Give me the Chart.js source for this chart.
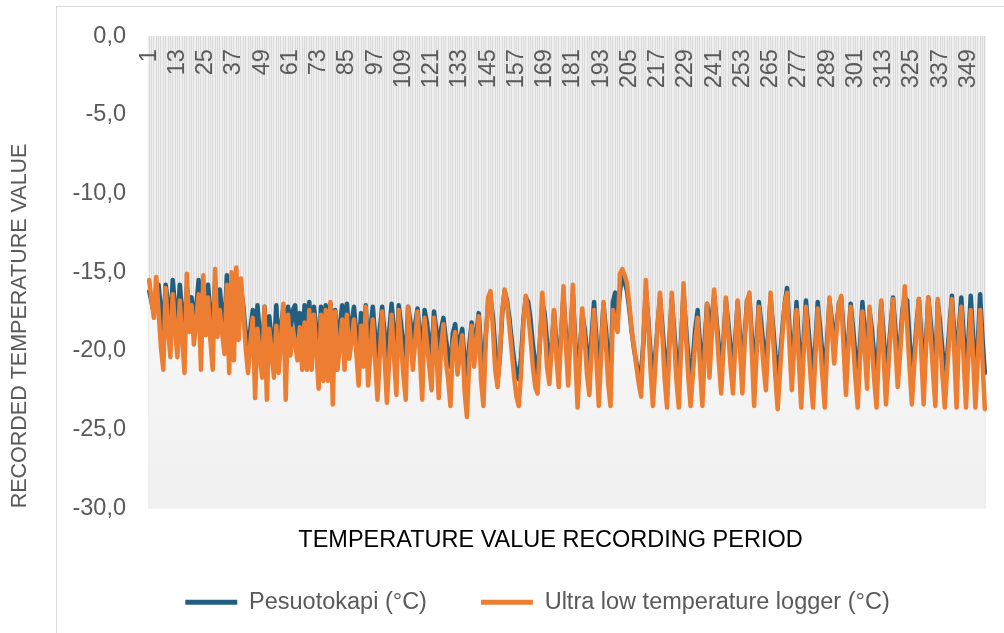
<!DOCTYPE html>
<html>
<head>
<meta charset="utf-8">
<title>Recorded temperature values</title>
<script src="https://cdn.jsdelivr.net/npm/chart.js@4.4.1/dist/chart.umd.min.js"></script>
<style>
  html, body { margin: 0; padding: 0; background: #fff; overflow: hidden; }
  /* outer chart frame, cropped on the right and bottom like the original */
  #frame { position: absolute; left: 56px; top: 6px; width: 1200px; height: 900px; border: 1px solid #d9d9d9; }
  #wrap { position: absolute; left: 0; top: 0; width: 1004px; height: 633px; }
</style>
</head>
<body>
<div id="frame"></div>
<div id="wrap"><canvas id="tempChart"></canvas></div>
<script>
// Temperature chart - one value per recording period

const FONT = '"Liberation Sans", Arial, sans-serif';

const periodCount = 356;
const periods = Array.from({ length: periodCount }, (_, i) => String(i + 1));
const labelStep = 12; // only every 12th period gets a label

const seriesNames = ["Pesuotokapi (°C)", "Ultra low temperature logger (°C)"];
const seriesColors = ["#215e80", "#ed7d31"];

const yMin = -30;
const yMax = 0;
const yStep = 5;

// Pesuotokapi (°C)
const pesuotokapi = [
  -16.2, -16.9, -17.6, -16.2, -15.8, -17.4, -18.6, -15.8, -17.0, -18.4,
  -15.5, -17.2, -18.5, -15.8, -17.4, -19.0, -16.0, -17.0, -16.6, -18.0,
  -17.2, -15.5, -18.6, -16.0, -17.4, -15.8, -17.6, -19.0, -15.6, -17.6,
  -16.1, -17.7, -18.6, -15.2, -18.8, -15.8, -18.5, -15.5, -17.8, -16.0,
  -17.2, -18.8, -20.0, -18.6, -17.4, -20.6, -17.1, -19.0, -20.2, -17.2,
  -20.8, -17.8, -19.2, -20.2, -17.1, -19.8, -18.4, -17.3, -20.5, -17.2,
  -19.0, -17.4, -17.1, -19.2, -17.6, -19.6, -17.1, -19.6, -16.9, -19.4,
  -17.2, -18.6, -20.4, -17.2, -19.8, -17.1, -19.9, -17.0, -20.8, -17.4,
  -19.5, -18.4, -17.1, -19.5, -17.0, -19.0, -18.2, -17.2, -18.9, -20.2,
  -17.6, -19.4, -17.1, -20.0, -18.6, -17.2, -19.0, -20.8, -18.6, -17.2,
  -18.9, -20.9, -18.7, -17.0, -18.8, -20.6, -17.1, -18.3, -19.7, -20.8,
  -17.2, -18.2, -19.6, -18.3, -17.3, -18.9, -20.7, -17.4, -18.2, -19.5,
  -20.4, -17.5, -18.7, -20.6, -18.6, -17.9, -19.2, -20.2, -21.0, -18.9,
  -18.3, -19.9, -19.3, -18.6, -20.6, -21.6, -19.6, -18.2, -19.8, -18.9,
  -17.6, -20.0, -21.4, -19.0, -17.0, -16.6, -17.8, -19.8, -21.9, -20.4,
  -17.6, -16.2, -16.8, -17.9, -19.3, -20.6, -21.4, -21.8, -20.4, -18.0,
  -16.6, -16.9, -18.0, -19.6, -20.8, -21.5, -19.4, -16.9, -17.6, -19.4,
  -20.6, -19.6, -17.5, -19.5, -20.8, -19.0, -16.5, -18.8, -20.9, -19.0,
  -16.4, -19.4, -21.6, -19.9, -17.6, -18.6, -20.0, -21.2, -19.0, -16.9,
  -19.3, -21.5, -19.6, -17.0, -18.6, -20.6, -21.3, -16.9, -16.3, -18.0,
  -16.2, -15.2, -15.6, -16.2, -17.4, -18.8, -19.9, -20.8, -21.5, -21.3,
  -19.4, -16.1, -18.0, -20.2, -21.4, -20.3, -18.4, -16.6, -18.4, -20.4,
  -21.5, -19.4, -16.7, -18.6, -20.6, -21.6, -19.2, -16.3, -18.4, -20.4,
  -21.6, -20.4, -18.6, -17.4, -19.6, -21.4, -19.4, -17.0, -18.2, -17.8,
  -16.5, -18.0, -19.7, -21.0, -19.3, -16.8, -18.2, -19.8, -21.0, -19.2,
  -16.9, -19.0, -21.0, -19.0, -16.8, -16.6, -19.0, -21.3, -19.5, -16.9,
  -18.2, -19.7, -20.8, -19.0, -16.6, -18.4, -20.2, -21.4, -20.4, -18.6,
  -17.0, -16.0, -18.6, -20.7, -19.3, -16.9, -19.4, -21.3, -19.5, -16.8,
  -18.5, -20.2, -21.4, -19.6, -16.9, -18.5, -20.2, -21.4, -19.4, -16.8,
  -18.0, -19.6, -18.4, -17.0, -16.6, -18.8, -20.9, -19.4, -17.0, -18.5,
  -20.2, -21.4, -19.6, -16.9, -18.8, -20.4, -17.4, -18.6, -20.3, -21.4,
  -19.4, -16.9, -19.0, -21.2, -20.2, -18.4, -16.6, -18.6, -20.6, -19.6,
  -17.4, -16.6, -16.8, -19.2, -21.4, -20.2, -18.3, -16.7, -19.0, -21.2,
  -19.4, -16.6, -18.2, -20.0, -21.3, -16.9, -18.2, -20.0, -21.4, -20.3,
  -18.4, -16.5, -18.8, -21.2, -18.6, -16.6, -19.0, -21.2, -19.4, -16.5,
  -19.0, -21.3, -19.6, -16.4, -19.2, -21.4
];

// Ultra low temperature logger (°C)
const ultraLowLogger = [
  -15.5, -16.8, -17.9, -15.3, -17.5, -19.8, -21.2, -16.0, -18.5, -20.4,
  -16.4, -18.6, -20.4, -16.8, -19.2, -21.4, -15.1, -18.8, -17.1, -19.6,
  -18.0, -16.4, -21.2, -15.2, -19.0, -16.6, -19.3, -21.2, -14.8, -19.1,
  -17.4, -18.9, -20.2, -15.8, -21.4, -15.0, -20.6, -14.7, -19.3, -15.4,
  -17.6, -19.8, -21.4, -19.5, -17.9, -23.0, -18.6, -20.2, -21.7, -17.2,
  -23.1, -18.6, -20.0, -21.7, -18.4, -21.4, -19.2, -17.0, -23.1, -17.7,
  -20.3, -18.6, -19.5, -20.6, -18.5, -21.2, -18.2, -21.2, -17.4, -21.2,
  -17.7, -20.0, -22.4, -17.7, -21.9, -17.4, -21.9, -16.9, -23.4, -17.5,
  -21.2, -19.6, -18.0, -21.2, -17.7, -20.5, -19.3, -18.0, -20.1, -22.2,
  -18.4, -21.0, -17.2, -22.2, -20.1, -18.0, -20.6, -23.1, -20.2, -17.5,
  -20.4, -23.3, -20.5, -17.7, -20.3, -22.8, -17.4, -19.6, -21.5, -23.1,
  -17.2, -19.2, -21.2, -19.4, -17.5, -20.3, -23.1, -17.9, -19.5, -21.0,
  -22.5, -17.9, -20.0, -23.0, -19.8, -18.3, -20.6, -21.8, -23.5, -19.6,
  -18.8, -21.5, -20.2, -19.0, -22.6, -24.2, -20.5, -18.4, -21.0, -19.6,
  -17.8, -21.9, -23.5, -19.4, -16.6, -16.2, -18.5, -21.2, -22.3, -20.1,
  -17.4, -16.1, -17.0, -18.4, -20.0, -21.6, -22.9, -23.5, -21.4, -18.2,
  -16.5, -17.6, -19.2, -21.0, -22.3, -22.7, -19.5, -16.3, -18.4, -21.0,
  -22.1, -19.8, -17.4, -20.4, -22.3, -19.0, -15.9, -19.5, -22.2, -19.1,
  -15.8, -20.2, -23.6, -20.5, -17.3, -19.2, -21.5, -22.8, -19.7, -17.4,
  -20.6, -23.5, -20.3, -16.9, -19.5, -22.1, -23.5, -17.4, -18.1, -18.8,
  -15.1, -14.8, -15.2, -15.7, -17.1, -18.7, -19.8, -21.0, -22.1, -22.9,
  -19.0, -15.5, -18.2, -21.2, -23.5, -21.0, -18.4, -16.3, -19.0, -21.8,
  -23.6, -19.8, -16.3, -19.2, -21.9, -23.6, -19.6, -15.7, -18.9, -21.6,
  -23.5, -21.4, -19.4, -17.9, -21.0, -23.5, -20.2, -17.0, -21.7, -19.0,
  -16.1, -18.4, -20.7, -22.7, -19.8, -16.6, -18.8, -21.0, -22.7, -19.6,
  -16.8, -19.9, -22.7, -19.4, -16.8, -16.3, -20.0, -23.5, -20.3, -17.2,
  -19.0, -21.0, -22.5, -19.4, -16.3, -19.0, -21.6, -23.7, -21.3, -19.0,
  -17.0, -16.3, -19.6, -22.5, -19.8, -17.4, -20.6, -23.6, -20.3, -17.2,
  -19.4, -21.7, -23.6, -20.4, -17.3, -19.4, -21.6, -23.6, -19.9, -16.6,
  -18.6, -20.8, -18.8, -17.0, -16.5, -19.8, -22.8, -19.9, -17.2, -19.4,
  -21.7, -23.6, -20.4, -17.5, -20.0, -22.4, -17.2, -19.6, -21.8, -23.6,
  -20.0, -16.8, -20.3, -23.4, -21.1, -18.8, -16.7, -19.6, -22.3, -20.2,
  -17.8, -15.9, -18.4, -21.0, -23.4, -20.9, -18.6, -16.7, -20.1, -23.4,
  -19.9, -16.6, -19.0, -21.4, -23.5, -16.7, -19.1, -21.5, -23.6, -21.2,
  -18.9, -16.7, -20.0, -23.6, -19.0, -17.2, -20.5, -23.6, -20.4, -17.4,
  -20.4, -23.6, -20.5, -17.4, -20.6, -23.7
];

// Light fill under the lines, hides the grid like in the original
function underFill(context) {
  const chart = context.chart;
  const area = chart.chartArea;
  if (!area) return "#f4f4f4";
  const g = chart.ctx.createLinearGradient(0, area.top, 0, area.bottom);
  g.addColorStop(0, "#fdfdfd");
  g.addColorStop(0.55, "#f7f7f7");
  g.addColorStop(1, "#f0f0f0");
  return g;
}

// Plot area background behind the category grid
const plotBackground = {
  id: "plotBackground",
  beforeDraw(chart) {
    const { ctx, chartArea } = chart;
    ctx.save();
    ctx.fillStyle = "#efefef";
    ctx.fillRect(chartArea.left, chartArea.top, chartArea.width, chartArea.height);
    ctx.restore();
  },
};

// Axis title and legend were centred on the (wider) original frame
const shiftBottomBoxes = {
  id: "shiftBottomBoxes",
  afterLayout(chart) {
    shiftBox(chart.titleBlock, 54);
    shiftBox(chart.legend, 41);
  },
};

function shiftBox(box, dx) {
  if (!box) return;
  box.left += dx;
  box.right += dx;
}

// Legend shows a short line in the series colour, in dataset order
function legendLabels(chart) {
  const items = Chart.defaults.plugins.legend.labels.generateLabels(chart);
  items.forEach((item) => {
    const ds = chart.data.datasets[item.datasetIndex];
    item.fillStyle = ds.borderColor;
    item.strokeStyle = ds.borderColor;
    item.lineWidth = 0;
  });
  return items.sort((a, b) => a.datasetIndex - b.datasetIndex);
}

function formatTemp(value) {
  return Number(value).toFixed(1).replace(".", ",");
}

const ctx = document.getElementById("tempChart");

new Chart(ctx, {
  type: "line",
  data: {
    labels: periods,
    datasets: [
      {
        label: seriesNames[0],
        data: pesuotokapi,
        borderColor: seriesColors[0],
        backgroundColor: underFill,
        fill: "start",
        borderWidth: 4.5,
        borderJoinStyle: "round",
        borderCapStyle: "round",
        pointRadius: 0,
        tension: 0,
        order: 1,
      },
      {
        label: seriesNames[1],
        data: ultraLowLogger,
        borderColor: seriesColors[1],
        backgroundColor: underFill,
        fill: "start",
        borderWidth: 4.5,
        borderJoinStyle: "round",
        borderCapStyle: "round",
        pointRadius: 0,
        tension: 0,
        order: 0,
      },
    ],
  },
  options: {
    responsive: true,
    maintainAspectRatio: false,
    animation: false,
    layout: {
      padding: { top: 36, left: 7, right: 18, bottom: 9 },
    },
    scales: {
      x: {
        type: "category",
        position: { y: 0 },
        offset: true,
        grid: { color: "#d9d9d9", lineWidth: 1, drawTicks: false },
        border: { display: false },
        ticks: {
          autoSkip: false,
          minRotation: 90,
          maxRotation: 90,
          padding: 13,
          color: "#595959",
          font: { family: FONT, size: 23.5 },
          callback: function (value, index) {
            return index % labelStep === 0 ? this.getLabelForValue(value) : "";
          },
        },
        afterFit: function (scale) {
          scale.paddingLeft = 0;
          scale.paddingRight = 0;
        },
      },
      y: {
        min: yMin,
        max: yMax,
        grid: { display: false, drawTicks: false },
        border: { display: false },
        ticks: {
          stepSize: yStep,
          padding: 22,
          color: "#595959",
          font: { family: FONT, size: 23.5 },
          callback: formatTemp,
        },
        title: {
          display: true,
          text: "RECORDED TEMPERATURE VALUE",
          align: "start",
          color: "#595959",
          font: { family: FONT, size: 21.5 },
          padding: 0,
        },
        afterFit: function (scale) {
          scale.width = 141;
        },
      },
    },
    plugins: {
      filler: { drawTime: "beforeDatasetsDraw" },
      tooltip: { enabled: false },
      title: {
        display: true,
        position: "bottom",
        text: "TEMPERATURE VALUE RECORDING PERIOD",
        color: "#000000",
        font: { family: FONT, size: 23.5, weight: "normal" },
        padding: { top: 18, bottom: -18 },
        weight: 500,
      },
      legend: {
        position: "bottom",
        labels: {
          boxWidth: 52,
          boxHeight: 5,
          padding: 54,
          color: "#595959",
          font: { family: FONT, size: 23.5 },
          generateLabels: legendLabels,
        },
      },
    },
  },
  plugins: [plotBackground, shiftBottomBoxes],
});
</script>
</body>
</html>
